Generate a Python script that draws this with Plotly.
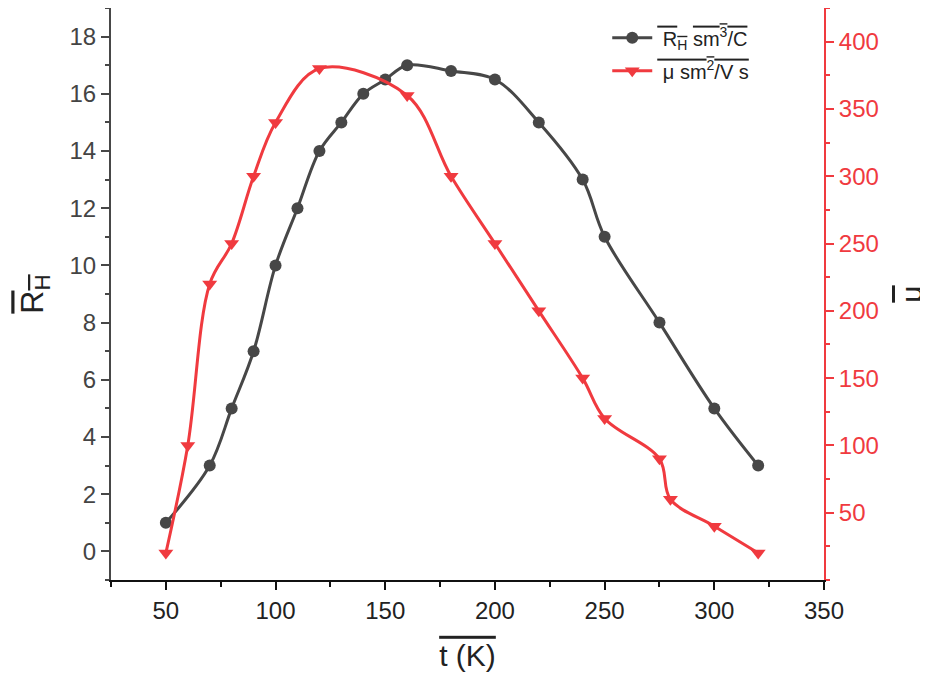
import plotly.graph_objects as go

def ol(s):
    return '<span style="text-decoration:overline">' + s + '</span>'

t_rh = [50, 70, 80, 90, 100, 110, 120, 130, 140, 150, 160, 180, 200, 220, 240, 250, 275, 300, 320]
rh = [1, 3, 5, 7, 10, 12, 14, 15, 16, 16.5, 17, 16.8, 16.5, 15, 13, 11, 8, 5, 3]

t_mu = [50, 60, 70, 80, 90, 100, 120, 160, 180, 200, 220, 240, 250, 275, 280, 300, 320]
mu = [20, 100, 220, 250, 300, 340, 380, 360, 300, 250, 200, 150, 120, 90, 60, 40, 20]

GRAY = "#474747"
RED = "#f03a3f"
FONT = "Liberation Sans, Arial, sans-serif"

fig = go.Figure()
fig.add_trace(go.Scatter(
    x=t_rh, y=rh, mode="lines+markers", legendgroup="a",
    line=dict(color=GRAY, width=3, shape="spline", smoothing=1.0),
    marker=dict(symbol="circle", size=12, color=GRAY),
    name=ol(" R") + "<sub>" + ol("H") + "</sub> " + ol("sm<sup>3</sup>/C"),
))
fig.add_trace(go.Scatter(
    x=t_mu, y=mu, mode="lines+markers", yaxis="y2", legendgroup="b",
    line=dict(color=RED, width=3, shape="spline", smoothing=1.0),
    marker=dict(symbol="triangle-down", size=13, color=RED),
    name=ol(" μ sm<sup>2</sup>/V s"),
))

fig.update_layout(
    width=920, height=667,
    margin=dict(l=103, r=104, t=0, b=95),
    paper_bgcolor="white", plot_bgcolor="white",
    font=dict(family=FONT, size=24, color="#222"),
    showlegend=True,
    legend=dict(x=0.696, y=0.982, xanchor="left", yanchor="top",
                bgcolor="rgba(0,0,0,0)", font=dict(size=20, color="#222"),
                itemwidth=40, tracegroupgap=4),
    xaxis=dict(
        range=[25, 350], tickvals=[50, 100, 150, 200, 250, 300, 350],
        showline=True, linecolor="#111", linewidth=2, mirror=False,
        ticks="outside", ticklen=8, tickwidth=2, tickcolor="#111",
        minor=dict(ticks="outside", ticklen=5, tickwidth=2, tickcolor="#111", dtick=25, tick0=25),
        showgrid=False, zeroline=False, automargin=False,
        tickfont=dict(size=24, color="#222"),
        title=dict(text=ol("t (K)"), font=dict(size=30, color="#222"), standoff=22),
    ),
    yaxis=dict(
        range=[-1, 19], tickvals=[0, 2, 4, 6, 8, 10, 12, 14, 16, 18],
        showline=True, linecolor=GRAY, linewidth=2,
        ticks="outside", ticklen=8, tickwidth=2, tickcolor=GRAY,
        minor=dict(ticks="outside", ticklen=4, tickwidth=2, tickcolor=GRAY, dtick=1, tick0=1),
        showgrid=False, zeroline=False, automargin=False,
        tickfont=dict(size=24, color="#444"),
        title=dict(text=ol("R") + "<sub>" + ol("H") + "</sub>", font=dict(size=32, color="#222"), standoff=16),
    ),
    yaxis2=dict(
        range=[0, 425], tickvals=[50, 100, 150, 200, 250, 300, 350, 400],
        overlaying="y", side="right", anchor="x",
        showline=True, linecolor=RED, linewidth=2,
        ticks="outside", ticklen=8, tickwidth=2, tickcolor=RED,
        minor=dict(ticks="outside", ticklen=4, tickwidth=2, tickcolor=RED, dtick=25, tick0=0),
        showgrid=False, zeroline=False, automargin=False,
        tickfont=dict(size=24, color=RED),
        title=dict(text=ol("μ"), font=dict(size=30, color="#222"), standoff=26),
    ),
)

fig.write_html("out.html")
